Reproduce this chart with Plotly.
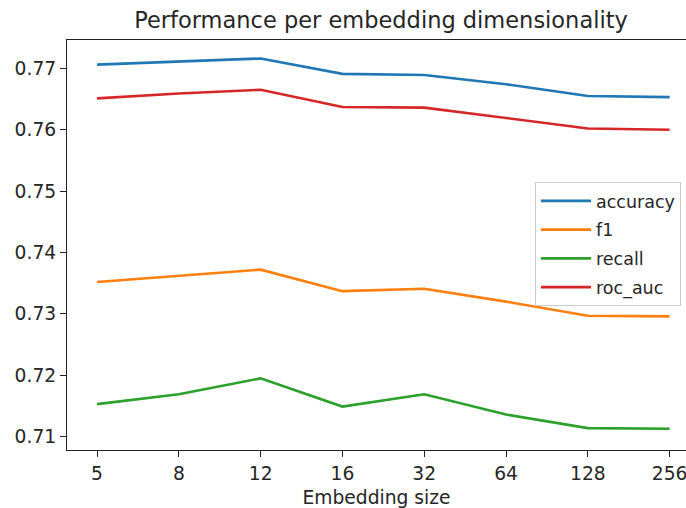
import plotly.graph_objects as go

sizes = ["5", "8", "12", "16", "32", "64", "128", "256"]
accuracy = [0.7706, 0.7711, 0.7716, 0.7691, 0.7689, 0.7674, 0.7655, 0.7653]
f1 = [0.7352, 0.7362, 0.7372, 0.7337, 0.7341, 0.7320, 0.7297, 0.7296]
recall = [0.7153, 0.7169, 0.7195, 0.7149, 0.7169, 0.7136, 0.7114, 0.7113]
roc_auc = [0.7651, 0.7659, 0.7665, 0.7637, 0.7636, 0.7619, 0.7602, 0.7600]
yticks = [0.71, 0.72, 0.73, 0.74, 0.75, 0.76, 0.77]

series = [("accuracy", accuracy, "#1f77b4"), ("f1", f1, "#ff7f0e"),
          ("recall", recall, "#2ca02c"), ("roc_auc", roc_auc, "#d62728")]

fig = go.Figure()
for name, vals, col in series:
    fig.add_trace(go.Scatter(x=list(range(len(sizes))), y=vals, mode="lines", name=name,
                             legendgroup=name, line=dict(color=col, width=2.6)))

W, H = 686, 508
font = "DejaVu Sans"
fs = 18.7
pl, pr, pt, pb = 67, 0, 40, 58
pw, ph = W - pl - pr, H - pt - pb
fig.update_layout(
    width=W, height=H,
    margin=dict(l=pl, r=pr, t=pt, b=pb, autoexpand=False),
    paper_bgcolor="white", plot_bgcolor="white",
    font=dict(family=font, size=fs, color="#262626"),
    title=dict(text="Performance per embedding dimensionality", x=381 / W, xanchor="center",
               y=1 - 20 / H, yanchor="middle", font=dict(size=22.5, color="#262626")),
    showlegend=True,
    legend=dict(x=(535 - pl) / pw, y=(H - pb - 182) / ph, xanchor="left", yanchor="top",
                bgcolor="rgba(255,255,255,0.8)", bordercolor="#cccccc", borderwidth=1,
                font=dict(size=17.5), tracegroupgap=3, traceorder="grouped",
                itemwidth=50),
)
fig.update_xaxes(range=[-0.367, 7.2], tickmode="array", tickvals=list(range(len(sizes))),
                 ticktext=sizes, showgrid=False, zeroline=False, showline=True,
                 linecolor="#222", linewidth=1.2, mirror=True, ticks="outside", ticklen=6,
                 tickcolor="#222", tickfont=dict(size=fs), automargin=False,
                 ticklabeloverflow="allow",
                 title=dict(text="Embedding size", font=dict(size=fs), standoff=8))
fig.update_yaxes(range=[0.70783, 0.77461], tickmode="array", tickvals=yticks,
                 ticktext=[f"{v:.2f}" for v in yticks], showgrid=False, zeroline=False,
                 showline=True, linecolor="#222", linewidth=1.2, ticks="outside", ticklen=6,
                 tickcolor="#222", tickfont=dict(size=fs), automargin=False)
fig.write_html("out.html", config={"displayModeBar": False},
               post_script="document.body.style.margin='0';document.body.style.overflow='hidden';")
